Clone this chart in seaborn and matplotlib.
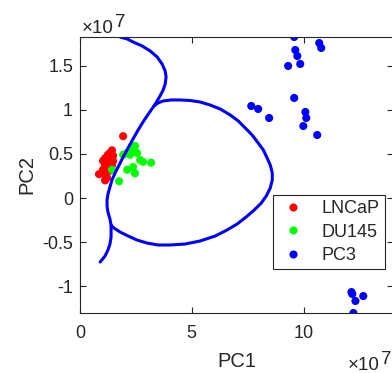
import numpy as np
import pandas as pd
import seaborn as sns
import matplotlib.pyplot as plt
from matplotlib.ticker import FuncFormatter

SCALE = 1e7  # valores en unidades de 1e7

# puntos LNCaP
lncap_x = [1.93, 1.43, 1.34, 1.25, 1.48, 1.12, 1.03, 1.34, 1.48, 1.12, 1.25, 1.43,
           1.34, 1.03, 0.85, 1.12, 1.21, 1.12]
lncap_y = [0.70, 0.54, 0.51, 0.49, 0.48, 0.45, 0.42, 0.42, 0.42, 0.37, 0.36, 0.37,
           0.31, 0.32, 0.27, 0.26, 0.23, 0.20]

# puntos DU145
du145_x = [2.46, 2.33, 2.55, 2.11, 1.93, 2.24, 2.69, 2.82, 3.18, 2.37, 2.11, 2.46,
           1.43, 1.75]
du145_y = [0.59, 0.54, 0.51, 0.51, 0.49, 0.49, 0.43, 0.41, 0.40, 0.35, 0.32, 0.28,
           0.32, 0.19]

# puntos PC3
pc3_x = [9.58, 10.70, 10.79, 9.63, 9.72, 9.85, 9.31, 9.58, 7.66, 7.97, 8.46, 10.08,
         10.12, 9.99, 10.61, 12.14, 12.18, 12.67, 12.32, 12.23]
pc3_y = [1.823, 1.755, 1.699, 1.676, 1.608, 1.518, 1.495, 1.133, 1.042, 1.008, 0.906,
         0.974, 0.906, 0.815, 0.713, -1.065, -1.087, -1.110, -1.166, -1.302]

# frontera de decision: rama izquierda
rama_x = [1.79, 2.11, 2.37, 2.78, 3.14, 3.45, 3.67, 3.81, 3.85, 3.81, 3.72, 3.58,
          3.45, 3.31, 3.09, 2.82, 2.60, 2.37, 2.15, 1.93, 1.75, 1.57, 1.43, 1.34,
          1.25, 1.21, 1.21, 1.25, 1.34, 1.39, 1.39, 1.39, 1.34, 1.25, 1.12, 0.90]
rama_y = [1.823, 1.801, 1.767, 1.721, 1.665, 1.597, 1.518, 1.438, 1.370, 1.291,
          1.223, 1.155, 1.099, 1.042, 0.963, 0.861, 0.770, 0.668, 0.566, 0.464,
          0.374, 0.283, 0.204, 0.125, 0.045, -0.023, -0.091, -0.159, -0.238,
          -0.306, -0.374, -0.442, -0.521, -0.589, -0.657, -0.725]

# frontera de decision: lazo
lazo_x = [3.31, 3.49, 3.72, 4.08, 4.48, 4.93, 5.37, 5.82, 6.27, 6.72, 7.08, 7.39,
          7.70, 7.97, 8.20, 8.37, 8.51, 8.60, 8.60, 8.51, 8.33, 8.11, 7.79, 7.43,
          7.03, 6.58, 6.05, 5.37, 4.70, 4.03, 3.49, 3.00, 2.55, 2.15, 1.79, 1.52, 1.39]
lazo_y = [1.042, 1.076, 1.099, 1.110, 1.110, 1.104, 1.087, 1.053, 1.008, 0.940,
          0.872, 0.793, 0.713, 0.623, 0.544, 0.453, 0.374, 0.283, 0.204, 0.113,
          0.023, -0.057, -0.136, -0.215, -0.294, -0.362, -0.430, -0.487, -0.521,
          -0.532, -0.532, -0.510, -0.476, -0.430, -0.385, -0.340, -0.306]

grupos = ['LNCaP', 'DU145', 'PC3']
colores = {'LNCaP': (1, 0, 0), 'DU145': (0, 1, 0), 'PC3': (0, 0, 1)}

df = pd.DataFrame({
    'PC1': np.array(lncap_x + du145_x + pc3_x) * SCALE,
    'PC2': np.array(lncap_y + du145_y + pc3_y) * SCALE,
    'Grupo': ['LNCaP'] * len(lncap_x) + ['DU145'] * len(du145_x) + ['PC3'] * len(pc3_x),
})

sns.set_style('ticks')
plt.rcParams['font.family'] = ['Liberation Sans', 'DejaVu Sans']
plt.rcParams['axes.unicode_minus'] = False

fig = plt.figure(figsize=(3.92, 3.73), dpi=100)
ax = fig.add_axes([80 / 392, 60 / 373, 313 / 392, 276 / 373])

for cx, cy in [(rama_x, rama_y), (lazo_x, lazo_y)]:
    sns.lineplot(x=np.array(cx) * SCALE, y=np.array(cy) * SCALE, sort=False,
                 estimator=None, color='blue', lw=2.2, ax=ax,
                 solid_joinstyle='round', solid_capstyle='round')
sns.scatterplot(data=df, x='PC1', y='PC2', hue='Grupo', hue_order=grupos,
                palette=colores, s=34, edgecolor='none', ax=ax)

ax.set_xlim(0, 14 * SCALE)
ax.set_ylim(-1.302 * SCALE, 1.823 * SCALE)
ax.set_xticks(np.array([0, 5, 10]) * SCALE)
ax.set_yticks(np.array([-1, -0.5, 0, 0.5, 1, 1.5]) * SCALE)
fmt = FuncFormatter(lambda v, p: f'{v / SCALE:g}')
ax.xaxis.set_major_formatter(fmt)
ax.yaxis.set_major_formatter(fmt)

ax.tick_params(direction='in', top=True, right=True, length=4, width=0.8,
               labelsize=13, color='#262626', labelcolor='#262626')
ax.tick_params(axis='x', pad=9)
ax.tick_params(axis='y', pad=5)
for s in ax.spines.values():
    s.set_color('#262626')
    s.set_linewidth(0.8)

ax.set_xlabel('PC1', fontsize=14.5, color='#262626', labelpad=7)
ax.set_ylabel('PC2', fontsize=14.5, color='#262626', labelpad=4)

# factor de escala (estilo MATLAB)
fig.text(82 / 392, 1 - 33 / 373, '×10', fontsize=13.5, color='#262626',
         va='baseline', ha='left')
fig.text(115 / 392, 1 - 27 / 373, '7', fontsize=13.5, color='#262626',
         va='baseline', ha='left')
fig.text(348 / 392, 1 - 370 / 373, '×10', fontsize=13.5, color='#262626',
         va='baseline', ha='left')
fig.text(381 / 392, 1 - 364 / 373, '7', fontsize=13.5, color='#262626',
         va='baseline', ha='left')

handles, labels = ax.get_legend_handles_labels()
ax.legend(handles, labels, loc='upper left', bbox_to_anchor=(0.617, 0.428),
          fontsize=13, frameon=True, fancybox=False, edgecolor='#262626',
          framealpha=1, borderpad=0.3, labelspacing=0.35, handletextpad=0.8,
          handlelength=1.6, borderaxespad=0, markerscale=1.0)
ax.get_legend().get_frame().set_linewidth(0.8)

plt.savefig('out.png', dpi=100)
